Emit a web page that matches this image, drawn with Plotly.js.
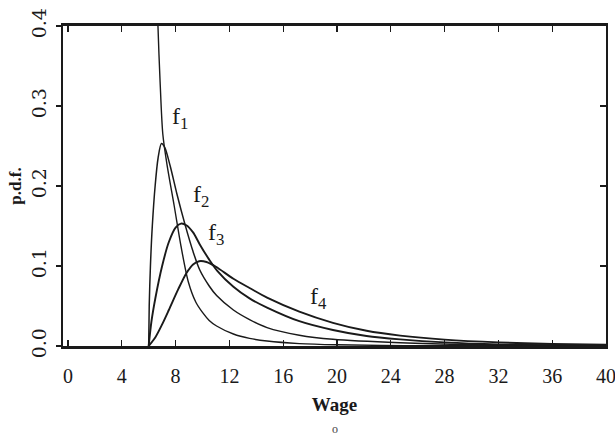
<!DOCTYPE html>
<html><head><meta charset="utf-8">
<script src="https://cdn.plot.ly/plotly-3.0.1.min.js"></script>
<style>html,body{margin:0;padding:0;background:#fff}#chart{width:615px;height:443px}</style>
</head><body><div id="chart"></div>
<script>
// Wage values and densities
const f1Wage = [6.62, 6.69, 6.85, 7.05, 7.35, 7.9, 8.4, 8.95, 9.5, 10.0, 10.5, 11.05, 12.3, 13.5, 14.8, 17.2, 20, 25, 40];
const f1Pdf  = [0.46, 0.40, 0.33, 0.265, 0.228, 0.175, 0.125, 0.08, 0.055, 0.042, 0.032, 0.025, 0.015, 0.0095, 0.0062, 0.003, 0.0015, 0.0005, 0.0];

const f2Wage = [6.0, 6.04, 6.13, 6.27, 6.48, 6.7, 6.95, 7.2, 7.6, 8.1, 8.7, 9.3, 9.8, 10.5, 11.05, 12.3, 13.5, 14.8, 17.2, 19.7, 24.7, 30, 40];
const f2Pdf  = [0.0, 0.05, 0.10, 0.15, 0.20, 0.235, 0.253, 0.248, 0.225, 0.19, 0.152, 0.118, 0.095, 0.075, 0.063, 0.045, 0.033, 0.023, 0.0135, 0.0083, 0.004, 0.0018, 0.0004];

const f3Wage = [6.0, 6.2, 6.5, 7.0, 7.5, 8.0, 8.4, 8.8, 9.3, 9.8, 10.5, 11.1, 12.3, 13.5, 14.8, 17.2, 19.7, 22.2, 24.7, 28, 32, 40];
const f3Pdf  = [0.0, 0.03, 0.06, 0.10, 0.13, 0.148, 0.153, 0.151, 0.142, 0.127, 0.108, 0.094, 0.074, 0.0595, 0.048, 0.031, 0.020, 0.0125, 0.0083, 0.0045, 0.002, 0.0005];

const f4Wage = [6.0, 6.5, 7.0, 7.5, 8.2, 8.8, 9.3, 9.75, 10.3, 11.0, 12.3, 13.5, 14.8, 17.2, 19.7, 22.2, 24.7, 28, 32, 36, 40];
const f4Pdf  = [0.0, 0.011, 0.027, 0.045, 0.071, 0.091, 0.102, 0.106, 0.105, 0.099, 0.084, 0.0725, 0.0605, 0.043, 0.029, 0.019, 0.013, 0.008, 0.0045, 0.0025, 0.0015];

const xTicks = [0, 4, 8, 12, 16, 20, 24, 28, 32, 36, 40];
const yTicks = [0, 0.1, 0.2, 0.3, 0.4];
const curveLabels = ['f<sub>1</sub>', 'f<sub>2</sub>', 'f<sub>3</sub>', 'f<sub>4</sub>'];

const serif = 'Liberation Serif, DejaVu Serif, serif';
const ink = '#1a1a1a';

function curve(x, y, w) {
  return {x: x, y: y, type: 'scatter', mode: 'lines', hoverinfo: 'none',
          line: {color: ink, width: w, shape: 'spline', smoothing: 0.8}, showlegend: false};
}
const traces = [
  curve(f1Wage, f1Pdf, 1.4),
  curve(f2Wage, f2Pdf, 1.5),
  curve(f3Wage, f3Pdf, 1.9),
  curve(f4Wage, f4Pdf, 1.9),
  {x: [], y: [], yaxis: 'y2', type: 'scatter', mode: 'lines', showlegend: false, hoverinfo: 'none'}
];

const labelPos = [[8.35, 0.285], [9.9, 0.187], [11.0, 0.14], [18.6, 0.06]];
const annotations = curveLabels.map((t, i) => ({
  x: labelPos[i][0], y: labelPos[i][1], xref: 'x', yref: 'y', text: t, showarrow: false,
  font: {family: serif, size: 24, color: ink}
}));
annotations.push({x: 0.5, y: -0.258, xref: 'paper', yref: 'paper', yanchor: 'middle', text: 'o', showarrow: false,
  font: {family: serif, size: 12, color: '#444'}});

const layout = {
  width: 615, height: 443,
  margin: {l: 63, r: 9, t: 26, b: 97},
  paper_bgcolor: '#fff', plot_bgcolor: '#fff',
  xaxis: {
    range: [-0.37, 40.001], tickvals: xTicks, ticktext: xTicks.map(String),
    ticks: 'inside', ticklen: 6, tickwidth: 1.2, tickcolor: ink,
    showline: true, linewidth: 3, linecolor: ink, mirror: 'ticks',
    showgrid: false, zeroline: false, ticklabeloverflow: 'allow',
    tickfont: {family: serif, size: 20, color: ink}, ticklabelstandoff: 10,
    title: {text: '<b>Wage</b>', font: {family: serif, size: 19, color: ink}, standoff: 12}
  },
  yaxis: {
    range: [0, 0.4], tickvals: yTicks, ticktext: yTicks.map(v => v.toFixed(1)),
    ticks: 'outside', ticklen: 5, tickwidth: 1.2, tickcolor: ink,
    showline: true, linewidth: 2, linecolor: ink, mirror: false, ticklabeloverflow: 'allow',
    showgrid: false, zeroline: false, tickangle: -90, ticklabelstandoff: 2,
    tickfont: {family: 'DejaVu Serif, serif', size: 19, color: ink},
    title: {text: '<b>p.d.f.</b>', font: {family: serif, size: 17, color: ink}, standoff: 2}
  },
  yaxis2: {
    overlaying: 'y', side: 'right', range: [0, 0.4], tickvals: yTicks,
    ticks: 'inside', ticklen: 6, tickwidth: 1.2, tickcolor: ink, showticklabels: false,
    showline: true, linewidth: 2, linecolor: ink, showgrid: false, zeroline: false
  },
  annotations: annotations
};
Plotly.newPlot('chart', traces, layout, {staticPlot: true, displayModeBar: false});
</script></body></html>
